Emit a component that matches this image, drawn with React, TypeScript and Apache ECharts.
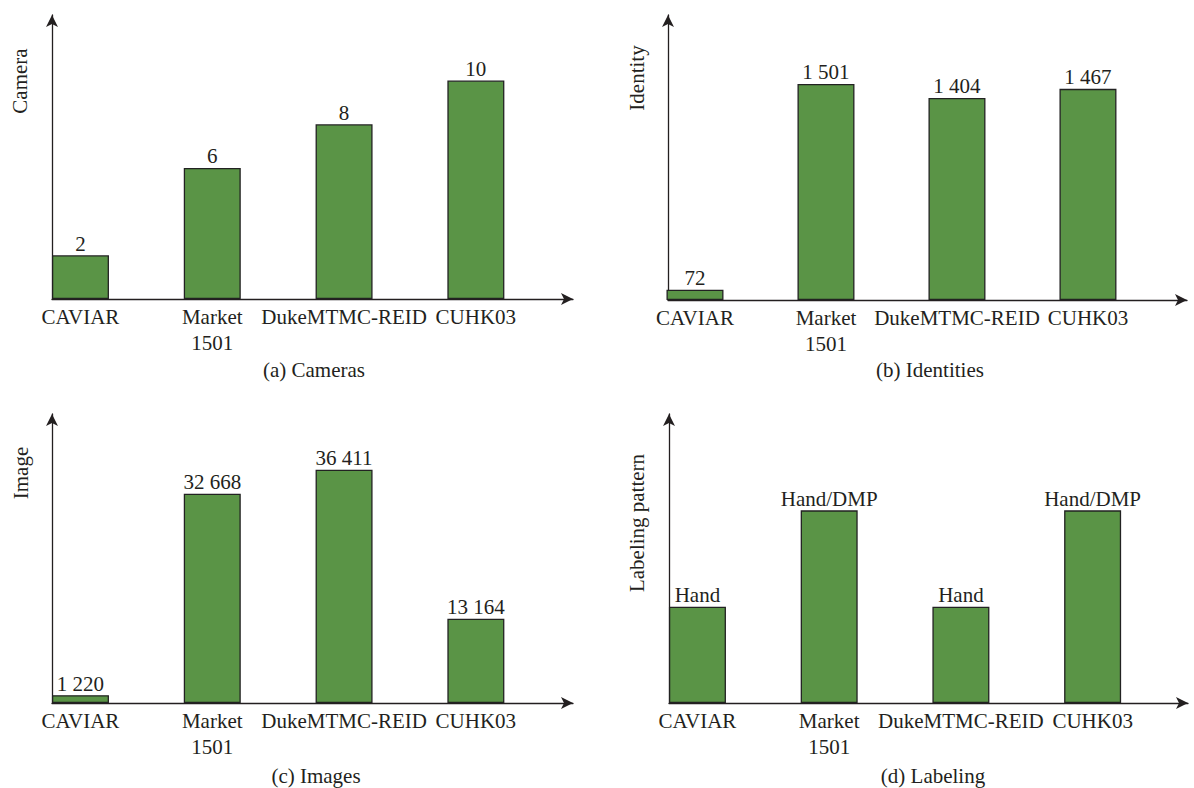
import React, { useEffect, useRef } from "react";
import * as echarts from "echarts";

// ---- data ----
const categories = ["CAVIAR", "Market\n1501", "DukeMTMC-REID", "CUHK03"];
const cameraValues = [2, 6, 8, 10];
const identityValues = [72, 1501, 1404, 1467];
const imageValues = [1220, 32668, 36411, 13164];
const labelingLevels = [1, 2, 1, 2];
const labelingText = ["Hand", "Hand/DMP", "Hand", "Hand/DMP"];
const axisNames = ["Camera", "Identity", "Image", "Labeling pattern"];
const captions = ["(a) Cameras", "(b) Identities", "(c) Images", "(d) Labeling"];

const FONT = "Liberation Serif";
const INK = "#231f20";
const GREEN = "#5a9446";

const fmt = (v: number) => String(v).replace(/\B(?=(\d{3})+(?!\d))/g, " ");

// panel layout (pixels)
const panels = [
  { left: 52, top: 15, width: 521, height: 284, xMin: -0.216, xMax: 3.737, yMax: 13, values: cameraValues, text: cameraValues.map(fmt) },
  { left: 668, top: 15, width: 519, height: 285, xMin: -0.206, xMax: 3.756, yMax: 1980, values: identityValues, text: identityValues.map(fmt) },
  { left: 52, top: 414, width: 521, height: 289, xMin: -0.216, xMax: 3.737, yMax: 45100, values: imageValues, text: imageValues.map(fmt) },
  { left: 669, top: 414, width: 519, height: 289, xMin: -0.216, xMax: 3.724, yMax: 3, values: labelingLevels, text: labelingText },
];

const namePos = [
  { x: 20, y: 81 },
  { x: 637, y: 78 },
  { x: 21, y: 473 },
  { x: 637, y: 523 },
];
const captionPos = [
  { x: 314, y: 370 },
  { x: 930, y: 370 },
  { x: 316, y: 776 },
  { x: 933, y: 776 },
];

export default function App() {
  const ref = useRef<HTMLDivElement>(null);
  useEffect(() => {
    if (!ref.current) return;
    const chart = echarts.init(ref.current, null, { renderer: "svg" });
    const axisLine = {
      show: true,
      onZero: false,
      symbol: ["none", "arrow"],
      symbolSize: [9, 12],
      lineStyle: { color: INK, width: 1.3 },
    };
    const option: any = {
      animation: false,
      backgroundColor: "#ffffff",
      textStyle: { fontFamily: FONT },
      grid: panels.map((p) => ({ left: p.left, top: p.top, width: p.width, height: p.height, containLabel: false })),
      xAxis: panels.map((p, i) => ({
        type: "value",
        gridIndex: i,
        min: p.xMin,
        max: p.xMax,
        minInterval: 1,
        axisLine,
        axisTick: { show: false },
        splitLine: { show: false },
        axisLabel: {
          show: true,
          margin: 5,
          fontSize: 21,
          lineHeight: 26,
          fontFamily: FONT,
          color: INK,
          showMinLabel: true,
          showMaxLabel: true,
          formatter: (v: number) => (Number.isInteger(v) && v >= 0 && v < categories.length ? categories[v] : ""),
        },
      })),
      yAxis: panels.map((p, i) => ({
        type: "value",
        gridIndex: i,
        min: 0,
        max: p.yMax,
        axisLine,
        axisTick: { show: false },
        splitLine: { show: false },
        axisLabel: { show: false },
      })),
      series: panels.map((p, i) => ({
        type: "bar",
        xAxisIndex: i,
        yAxisIndex: i,
        barWidth: 57,
        data: p.values.map((v, k) => [k, v]),
        itemStyle: { color: GREEN, borderColor: "#222222", borderWidth: 1.3 },
        label: {
          show: true,
          position: "top",
          distance: 1,
          fontSize: 21,
          fontFamily: FONT,
          color: INK,
          formatter: (params: any) => p.text[params.dataIndex],
        },
      })),
      graphic: [
        ...axisNames.map((t, i) => ({
          type: "text",
          x: namePos[i].x,
          y: namePos[i].y,
          rotation: Math.PI / 2,
          style: { text: t, fontSize: 21, fontFamily: FONT, fill: INK, align: "center", verticalAlign: "middle" },
        })),
        ...captions.map((t, i) => ({
          type: "text",
          x: captionPos[i].x,
          y: captionPos[i].y,
          style: { text: t, fontSize: 21, fontFamily: FONT, fill: INK, align: "center", verticalAlign: "middle" },
        })),
      ],
    };
    chart.setOption(option);
    return () => chart.dispose();
  }, []);
  return (
    <div
      ref={ref}
      style={{ position: "absolute", left: 0, top: 0, width: 1194, height: 788, background: "#fff" }}
    />
  );
}
